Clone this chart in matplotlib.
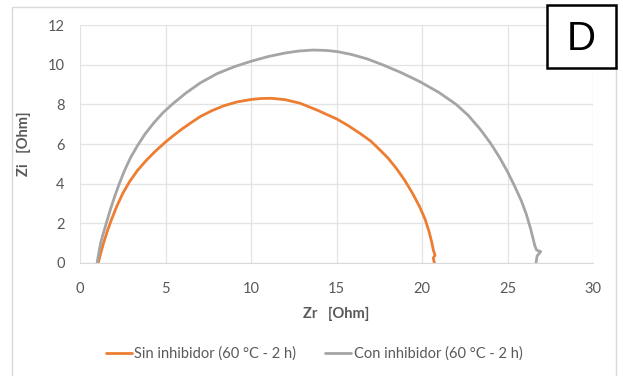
import matplotlib
matplotlib.use("Agg")
import matplotlib.pyplot as plt
from matplotlib.patches import Rectangle

plt.rcParams['font.family'] = ['Lato', 'DejaVu Sans']

# Data (Nyquist plot)
zr_sin = [1.07, 1.2, 1.38, 1.6, 1.85, 2.15, 2.5, 2.9, 3.35, 3.85, 4.39, 5.0,
          5.5, 6.0, 6.5, 7.02, 7.7, 8.4, 9.2, 10.0, 10.6, 11.2, 12.0, 12.87, 13.9,
          15.05, 15.7, 16.37, 17.0, 17.54, 18.0, 18.5, 19.0, 19.45, 19.85, 20.18,
          20.42, 20.58, 20.66, 20.76, 20.66, 20.72]
zi_sin = [0, 0.45, 1.0, 1.6, 2.2, 2.85, 3.5, 4.1, 4.65, 5.15, 5.62, 6.1,
          6.45, 6.78, 7.08, 7.38, 7.68, 7.93, 8.13, 8.25, 8.3, 8.31, 8.24, 8.06, 7.7,
          7.25, 6.92, 6.54, 6.15, 5.7, 5.3, 4.77, 4.15, 3.5, 2.85, 2.2,
          1.55, 1.0, 0.64, 0.39, 0.23, 0]

zr_con = [1.0, 1.1, 1.22, 1.37, 1.54, 1.78, 2.03, 2.3, 2.6, 2.95, 3.35, 3.8, 4.3,
          4.85, 5.45, 6.2, 7.02, 8.0, 9.0, 10.0, 11.0, 12.0, 12.8, 13.64, 14.4, 15.05,
          15.9, 16.8, 17.74, 18.8, 19.88, 21.0, 22.0, 22.7, 23.4, 24.0, 24.55, 25.0,
          25.4, 25.8, 26.1, 26.35, 26.5, 26.6, 26.7, 26.94, 26.73, 26.67]
zi_con = [0, 0.5, 1.05, 1.5, 2.0, 2.7, 3.35, 4.0, 4.65, 5.3, 5.9, 6.5, 7.05,
          7.58, 8.05, 8.58, 9.08, 9.55, 9.9, 10.18, 10.42, 10.6, 10.7, 10.75, 10.73, 10.67,
          10.52, 10.3, 9.99, 9.6, 9.15, 8.6, 8.0, 7.45, 6.75, 6.05, 5.3, 4.6,
          3.9, 3.15, 2.45, 1.72, 1.2, 0.85, 0.64, 0.56, 0.34, 0]

label_sin = "Sin inhibidor (60 °C - 2 h)"
label_con = "Con inhibidor (60 °C - 2 h)"
x_ticks = [0, 5, 10, 15, 20, 25, 30]
y_ticks = [0, 2, 4, 6, 8, 10, 12]

W, H = 623, 376
fig = plt.figure(figsize=(W / 100, H / 100), dpi=100)

# chart area border
fig.add_artist(Rectangle((11.5 / W, 1 - 420 / H), (615.5 - 11.5) / W, (420 - 7.3) / H,
                         transform=fig.transFigure, fill=False, edgecolor='#d9d9d9',
                         linewidth=1.0))

ax = fig.add_axes([80 / W, 1 - 262.7 / H, (593 - 80) / W, (262.7 - 25.3) / H])
ax.plot(zr_sin, zi_sin, color='#ED7D31', lw=2.0, label=label_sin,
        solid_joinstyle='round', solid_capstyle='round')
ax.plot(zr_con, zi_con, color='#A5A5A5', lw=2.0, label=label_con,
        solid_joinstyle='round', solid_capstyle='round')

ax.set_xlim(0, 30)
ax.set_ylim(0, 12)
ax.set_xticks(x_ticks)
ax.set_yticks(y_ticks)
ax.grid(True, color='#e3e3e3', lw=0.9)
ax.set_axisbelow(True)
for s in ['top', 'right', 'left']:
    ax.spines[s].set_visible(False)
ax.spines['bottom'].set_color('#d9d9d9')
ax.tick_params(length=0, colors='#595959', labelsize=10.5)
ax.tick_params(axis='x', pad=14)
ax.tick_params(axis='y', pad=11)

ax.set_xlabel("Zr   [Ohm]", fontsize=10.5, fontweight='bold', color='#595959', labelpad=8)
ax.set_ylabel("Zi   [Ohm]", fontsize=10.5, fontweight='bold', color='#595959', labelpad=12)

leg = fig.legend(loc='center', bbox_to_anchor=(314 / W, 1 - 354 / H), ncol=2,
                 frameon=False, fontsize=10.5, handlelength=1.8, handletextpad=0.15,
                 columnspacing=2.0)
for t in leg.get_texts():
    t.set_color('#595959')

# "D" panel box
fig.add_artist(Rectangle((546.7 / W, 1 - 68 / H), (615.5 - 546.7) / W, (68 - 4.7) / H,
                         transform=fig.transFigure, fill=True, facecolor='white',
                         edgecolor='black', linewidth=1.8))
fig.text(581.5 / W, 1 - 39 / H, "D", fontsize=29, ha='center', va='center',
         color='black', family=['Liberation Sans', 'DejaVu Sans'])

fig.savefig("out.png", dpi=100, facecolor='white')
